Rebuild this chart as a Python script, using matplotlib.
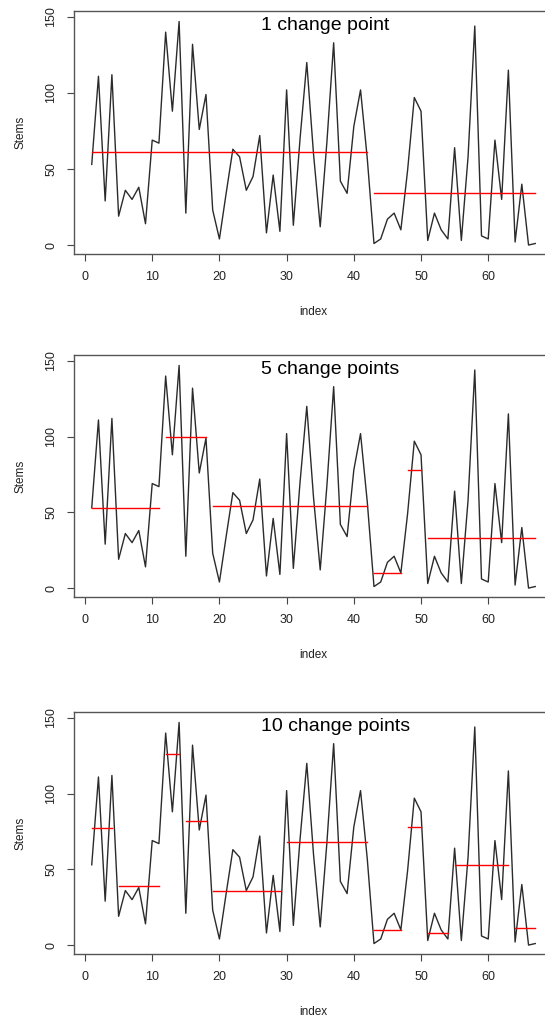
import matplotlib
matplotlib.use("Agg")
import matplotlib.pyplot as plt

plt.rcParams['font.family'] = ['Liberation Sans', 'DejaVu Sans']

# stems per index (same series in all three panels)
stems = [53, 111, 29, 112, 19, 36, 30, 38, 14, 69,
         67, 140, 88, 147, 21, 132, 76, 99, 23, 4,
         34, 63, 58, 36, 45, 72, 8, 46, 9, 102,
         13, 70, 120, 60, 12, 68, 133, 42, 34, 78,
         102, 57, 1, 4, 17, 21, 10, 49, 97, 88,
         3, 21, 10, 4, 64, 3, 58, 144, 6, 4,
         69, 30, 115, 2, 40, 0, 1]
index = list(range(1, len(stems) + 1))

# segment means for each fit: start, end, level
titles = ['1 change point', '5 change points', '10 change points']
seg_start = [[1, 43],
             [1, 12, 19, 43, 48, 51],
             [1, 5, 12, 15, 19, 30, 43, 48, 51, 55, 64]]
seg_end = [[42, 67],
           [11, 18, 42, 47, 50, 67],
           [4, 11, 14, 18, 29, 42, 47, 50, 54, 63, 67]]
seg_level = [[61, 34],
             [53, 100, 54, 10, 78, 33],
             [77, 39, 126, 82, 36, 68, 10, 78, 8, 53, 11]]

W, H = 545, 1016
fig = plt.figure(figsize=(W / 100, H / 100), dpi=100)

# axes boxes in pixels: top, bottom (left 74, right 553 runs off the page)
boxes = [(11, 254), (355, 597), (712, 954)]
left, right = 74, 553

for k in range(3):
    top, bot = boxes[k]
    ax = fig.add_axes([left / W, 1 - bot / H, (right - left) / W, (bot - top) / H])
    ax.plot(index, stems, color='#2b2b2b', lw=1.0)
    for s, e, v in zip(seg_start[k], seg_end[k], seg_level[k]):
        ax.plot([s, e], [v, v], color='red', lw=1.0)

    ax.set_xlim(-1.64, 69.64)
    ax.set_ylim(-5.9, 153.9)
    ax.set_xticks([0, 10, 20, 30, 40, 50, 60])
    ax.set_yticks([0, 50, 100, 150])
    ax.tick_params(axis='both', direction='out', length=5, width=0.8,
                   color='#444444', labelsize=9, labelcolor='#222222', pad=7)
    for lab in ax.get_yticklabels():
        lab.set_rotation(90)
        lab.set_va('center')
    for sp in ax.spines.values():
        sp.set_color('#555555')
        sp.set_linewidth(1)

    ax.set_xlabel('index', fontsize=8.5, color='#222222')
    ax.set_ylabel('Stems', fontsize=8.5, color='#222222')
    h = bot - top
    ax.xaxis.set_label_coords(0.5, -(52 / h))
    ax.yaxis.set_label_coords(-(48 / (right - left)), 0.5)

    ax.text((261 - left) / (right - left), 1 - 19 / h, titles[k],
            transform=ax.transAxes, ha='left', va='baseline', fontsize=14)

fig.savefig('out.png', dpi=100)
